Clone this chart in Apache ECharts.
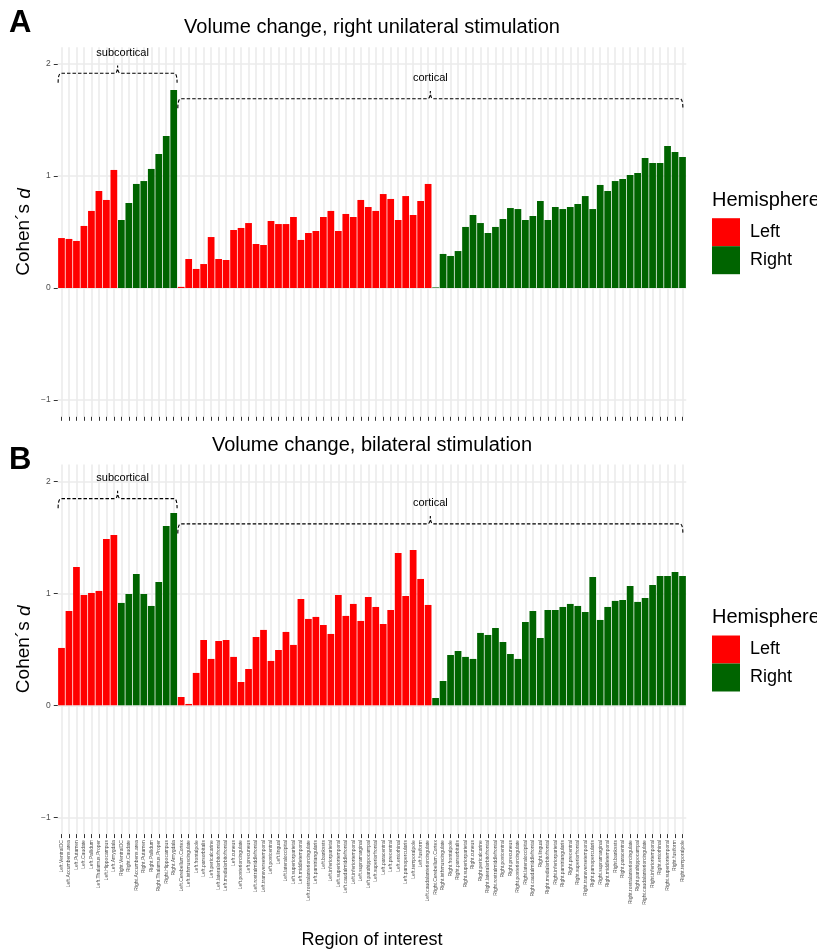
<!DOCTYPE html>
<html>
<head>
<meta charset="utf-8">
<script src="https://cdn.jsdelivr.net/npm/echarts@6/dist/echarts.min.js"></script>
<style>
html,body{margin:0;padding:0;background:#fff;}
#chart{width:817px;height:951px;}
</style>
</head>
<body>
<div id="chart"></div>
<script>
const regions = [
'Left.VentralDC','Left.Accumbens.area','Left.Putamen','Left.Caudate','Left.Pallidum','Left.Thalamus.Proper','Left.Hippocampus','Left.Amygdala',
'Right.VentralDC','Right.Caudate','Right.Accumbens.area','Right.Putamen','Right.Pallidum','Right.Thalamus.Proper','Right.Hippocampus','Right.Amygdala',
'Left.Cerebellum.Cortex','Left.isthmuscingulate','Left.frontalpole','Left.parsorbitalis','Left.pericalcarine','Left.lateralorbitofrontal','Left.medialorbitofrontal','Left.cuneus','Left.posteriorcingulate','Left.precuneus','Left.rostralmiddlefrontal','Left.transversetemporal','Left.postcentral','Left.lingual','Left.lateraloccipital','Left.superiorparietal','Left.middletemporal','Left.rostralanteriorcingulate','Left.parstriangularis','Left.bankssts','Left.inferiorparietal','Left.superiortemporal','Left.caudalmiddlefrontal','Left.inferiortemporal','Left.supramarginal','Left.parahippocampal','Left.superiorfrontal','Left.paracentral','Left.precentral','Left.entorhinal','Left.parsopercularis','Left.temporalpole','Left.fusiform','Left.caudalanteriorcingulate',
'Right.Cerebellum.Cortex','Right.isthmuscingulate','Right.frontalpole','Right.parsorbitalis','Right.superiorparietal','Right.cuneus','Right.pericalcarine','Right.lateralorbitofrontal','Right.rostralmiddlefrontal','Right.postcentral','Right.precuneus','Right.posteriorcingulate','Right.lateraloccipital','Right.caudalmiddlefrontal','Right.lingual','Right.medialorbitofrontal','Right.inferiorparietal','Right.parstriangularis','Right.precentral','Right.superiorfrontal','Right.transversetemporal','Right.parsopercularis','Right.supramarginal','Right.middletemporal','Right.bankssts','Right.paracentral','Right.rostralanteriorcingulate','Right.parahippocampal','Right.caudalanteriorcingulate','Right.inferiortemporal','Right.entorhinal','Right.superiortemporal','Right.fusiform','Right.temporalpole'
];

// Panel A: right unilateral stimulation (Cohen's d)
const unilateral = [
0.446,0.438,0.420,0.554,0.688,0.866,0.786,1.054,
0.607,0.759,0.929,0.955,1.063,1.196,1.357,1.768,
0.010,0.259,0.170,0.214,0.455,0.259,0.250,0.518,0.536,0.580,0.393,0.384,0.598,0.571,0.571,0.634,0.429,0.491,0.509,0.634,0.688,0.509,0.661,0.634,0.786,0.723,0.688,0.839,0.795,0.607,0.821,0.652,0.777,0.929,
0.005,0.304,0.286,0.330,0.545,0.652,0.580,0.491,0.545,0.616,0.714,0.705,0.607,0.643,0.777,0.607,0.723,0.705,0.723,0.750,0.821,0.705,0.920,0.866,0.955,0.973,1.009,1.027,1.161,1.116,1.116,1.268,1.214,1.170
];

// Panel B: bilateral stimulation (Cohen's d)
const bilateral = [
0.512,0.842,1.235,0.985,1.003,1.021,1.485,1.521,
0.914,0.994,1.173,0.994,0.887,1.101,1.601,1.717,
0.074,0.012,0.289,0.583,0.414,0.574,0.583,0.432,0.208,0.324,0.610,0.673,0.396,0.494,0.655,0.539,0.949,0.771,0.789,0.717,0.637,0.985,0.798,0.905,0.753,0.967,0.878,0.726,0.851,1.360,0.976,1.387,1.128,0.896,
0.065,0.217,0.449,0.485,0.432,0.414,0.646,0.628,0.690,0.565,0.458,0.414,0.744,0.842,0.601,0.851,0.851,0.878,0.905,0.887,0.833,1.146,0.762,0.878,0.932,0.940,1.065,0.923,0.958,1.074,1.155,1.155,1.190,1.155
];

const yTicks = [-1, 0, 1, 2];
const groups = [
  {name: 'subcortical', from: 0, to: 15},
  {name: 'cortical', from: 16, to: 83}
];
const bracketLevelsA = [1.917, 1.69];
const bracketLevelsB = [1.845, 1.62];
const panelTitles = ['Volume change, right unilateral stimulation', 'Volume change, bilateral stimulation'];
const hemispheres = ['Left', 'Right'];

const FONT = '"Liberation Sans", Arial, Helvetica, sans-serif';
const COLORS = {Left: '#ff0000', Right: '#006400'};
const GRIDCOL = '#ebebeb';

const chart = echarts.init(document.getElementById('chart'), null, {renderer: 'canvas'});

const panels = [
  {top: 47.2, height: 369.6, values: unilateral, levels: bracketLevelsA, showLabels: false},
  {top: 464.5, height: 369.6, values: bilateral, levels: bracketLevelsB, showLabels: true}
];
const mainLeft = 57.75, mainRight = 817 - 686.25;
const band = 628.5 / 84;
const auxLeft = mainLeft + band / 2, auxRight = mainRight + band / 2;

const grid = [], xAxis = [], yAxis = [], series = [], legend = [];
panels.forEach((p, k) => {
  grid.push({left: mainLeft, right: mainRight, top: p.top, height: p.height});
  grid.push({left: auxLeft, right: auxRight, top: p.top, height: p.height});
  const gi = k * 2;
  xAxis.push({
    type: 'category', gridIndex: gi, data: regions, position: 'bottom',
    axisLine: {show: false, onZero: false},
    axisTick: {show: true, alignWithLabel: true, length: 4, interval: 0, lineStyle: {color: '#333', width: 1}},
    axisLabel: {show: p.showLabels, interval: 0, rotate: 90, fontSize: 5, color: '#4d4d4d', fontFamily: FONT, margin: 6},
    splitLine: {show: false}
  });
  xAxis.push({
    type: 'category', gridIndex: gi + 1, data: regions, boundaryGap: false,
    axisLine: {show: false, onZero: false}, axisTick: {show: false}, axisLabel: {show: false},
    splitLine: {show: true, interval: 0, lineStyle: {color: GRIDCOL, width: 1.6}}
  });
  yAxis.push({
    type: 'value', gridIndex: gi, min: -1.15, max: 2.15,
    axisLine: {show: false},
    axisTick: {show: true, length: 4, customValues: yTicks, lineStyle: {color: '#333', width: 1}},
    axisLabel: {customValues: yTicks, fontSize: 8.5, color: '#4d4d4d', fontFamily: FONT, margin: 7,
      formatter: v => (v < 0 ? '\u2212' + Math.abs(v) : String(v))},
    splitLine: {show: true, lineStyle: {color: GRIDCOL, width: 1.6}},
    name: '{a|Cohen\u00b4s }{b|d}',
    nameLocation: 'middle', nameGap: 24, nameRotate: 90, nameMoveOverlap: false,
    nameTextStyle: {rich: {a: {fontSize: 19, fontFamily: FONT, color: '#000'}, b: {fontSize: 19, fontFamily: FONT, fontStyle: 'italic', color: '#000'}}}
  });
  yAxis.push({
    type: 'value', gridIndex: gi + 1, min: -1.15, max: 2.15, show: false, splitLine: {show: false}
  });
  hemispheres.forEach(h => {
    series.push({
      type: 'bar', name: h, xAxisIndex: gi, yAxisIndex: gi,
      barGap: '-100%', barCategoryGap: '10%',
      itemStyle: {color: COLORS[h]},
      data: p.values.map((v, i) => regions[i].startsWith(h + '.') ? v : '-'),
      z: 3, silent: true
    });
  });
  series.push({
    type: 'custom', xAxisIndex: gi, yAxisIndex: gi, silent: true, z: 4,
    encode: {x: 0, y: 2},
    data: groups.map((g, j) => [g.from, g.to, p.levels[j]]),
    renderItem: function (params, api) {
      const g = groups[params.dataIndex];
      const lvl = api.value(2);
      const bw = api.size([1, 0])[0];
      const x0 = api.coord([api.value(0), lvl])[0] - 0.45 * bw;
      const x1 = api.coord([api.value(1), lvl])[0] + (params.dataIndex === 0 ? 0.45 : 0.05) * bw;
      const yL = api.coord([api.value(0), lvl])[1];
      const yE = api.coord([api.value(0), lvl - 0.085])[1];
      const yN = api.coord([api.value(0), lvl + 0.07])[1];
      const yT = api.coord([api.value(0), lvl + 0.185])[1];
      const xm = (x0 + x1) / 2, r = 3;
      const d = 'M' + x0 + ',' + yE + ' Q' + x0 + ',' + yL + ' ' + (x0 + r) + ',' + yL +
        ' L' + (xm - r) + ',' + yL + ' Q' + xm + ',' + yL + ' ' + xm + ',' + yN +
        ' Q' + xm + ',' + yL + ' ' + (xm + r) + ',' + yL +
        ' L' + (x1 - r) + ',' + yL + ' Q' + x1 + ',' + yL + ' ' + x1 + ',' + yE;
      return {
        type: 'group',
        children: [
          {type: 'path', shape: {pathData: d}, style: {fill: null, stroke: '#000', lineWidth: 1.1, lineDash: [3.5, 2]}},
          {type: 'text', style: {text: g.name, x: xm + (params.dataIndex === 0 ? 5 : 0), y: yT, align: 'center', verticalAlign: 'middle',
            textAlign: 'center', textVerticalAlign: 'middle', fontSize: 11, fontFamily: FONT, fill: '#000'}}
        ]
      };
    }
  });
  legend.push({
    data: hemispheres, orient: 'vertical', left: 712, top: p.top + 171, padding: 0,
    icon: 'rect', itemWidth: 28, itemHeight: 28, itemGap: 0,
    textStyle: {fontSize: 18, fontFamily: FONT, color: '#000', padding: [0, 0, 0, 5]},
    selectedMode: false
  });
});

const graphic = [
  {type: 'text', left: 9, top: 8, style: {text: 'A', fontSize: 31, fontWeight: 'bold', fontFamily: FONT, fill: '#000'}},
  {type: 'text', left: 9, top: 445, style: {text: 'B', fontSize: 31, fontWeight: 'bold', fontFamily: FONT, fill: '#000'}},
  {type: 'text', x: 372, y: 27, style: {text: panelTitles[0], fontSize: 20, fontFamily: FONT, fill: '#000', align: 'center', verticalAlign: 'middle'}},
  {type: 'text', x: 372, y: 445, style: {text: panelTitles[1], fontSize: 20, fontFamily: FONT, fill: '#000', align: 'center', verticalAlign: 'middle'}},
  {type: 'text', x: 712, y: 200, style: {text: 'Hemisphere', fontSize: 20, fontFamily: FONT, fill: '#000', align: 'left', verticalAlign: 'middle'}},
  {type: 'text', x: 712, y: 617, style: {text: 'Hemisphere', fontSize: 20, fontFamily: FONT, fill: '#000', align: 'left', verticalAlign: 'middle'}},
  {type: 'text', x: 372, y: 940, style: {text: 'Region of interest', fontSize: 18, fontFamily: FONT, fill: '#000', align: 'center', verticalAlign: 'middle'}}
];

chart.setOption({
  animation: false,
  backgroundColor: '#fff',
  textStyle: {fontFamily: FONT},
  grid, xAxis, yAxis, series, legend, graphic
});
</script>
</body>
</html>
